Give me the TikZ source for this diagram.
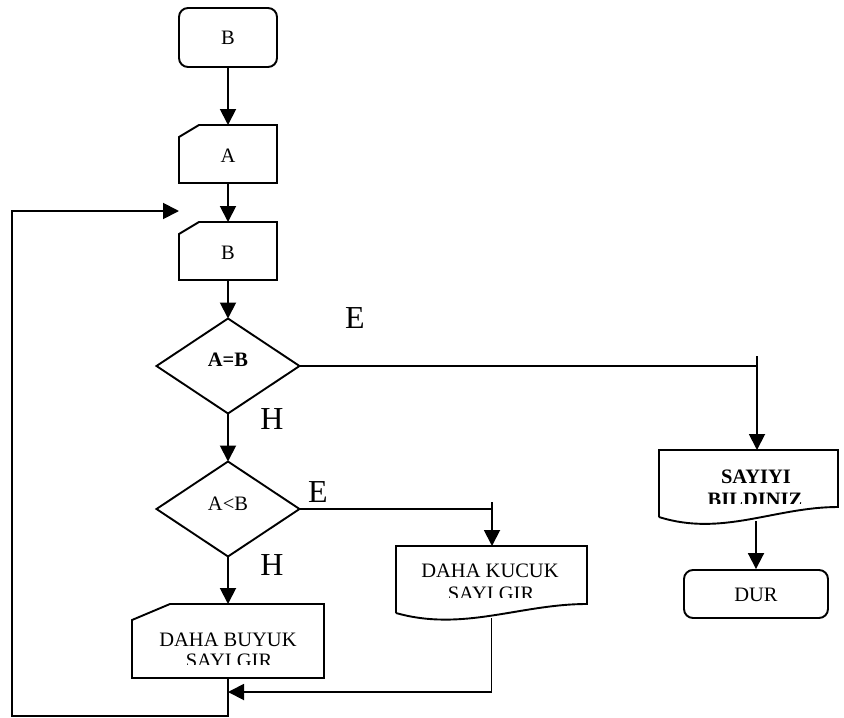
\documentclass[tikz,border=0pt]{standalone}
\usepackage{fontspec}
\setmainfont{Liberation Serif}
\usetikzlibrary{calc,arrows.meta}

\begin{document}
\begin{tikzpicture}[x=1pt,y=-1pt,
  stroke/.style={line width=1.9pt},
  flow/.style={stroke,-{Triangle[length=16pt,width=16pt]}},
  frame/.style={inner sep=0pt,outer sep=0pt},
  txt/.style={inner sep=0pt,font=\fontsize{20.5}{22}\selectfont},
  boldtxt/.style={inner sep=0pt,font=\fontsize{20.5}{22}\selectfont\bfseries},
  lbl/.style={inner sep=0pt,font=\fontsize{32}{34}\selectfont},
  terminal/.style={draw,stroke,rounded corners=9pt,inner sep=0pt}]

\useasboundingbox (0,0) rectangle (844,718);

% start terminal
\node[terminal,minimum width=98pt,minimum height=59pt] (start) at (228,37.5) {};
\node[txt] (tstart) at (228,37.5) {B};

% manual input A
\node[frame,minimum width=98pt,minimum height=58pt] (inA) at (228,154) {};
\draw[stroke] (inA.south west) -- (inA.south east) -- (inA.north east)
  -- ($(inA.north west)+(20,0)$) -- ($(inA.north west)+(0,12)$) -- cycle;
\node[txt] (tA) at (228,156) {A};

% manual input B
\node[frame,minimum width=98pt,minimum height=58pt] (inB) at (228,251) {};
\draw[stroke] (inB.south west) -- (inB.south east) -- (inB.north east)
  -- ($(inB.north west)+(20,0)$) -- ($(inB.north west)+(0,12)$) -- cycle;
\node[txt] (tB) at (228,253) {B};

% decision A=B
\node[frame,minimum width=143pt,minimum height=95pt] (dec1) at (228,366) {};
\draw[stroke] (dec1.north) -- (dec1.east) -- (dec1.south) -- (dec1.west) -- cycle;
\node[boldtxt] (tdec1) at (228,360) {A=B};

% decision A<B
\node[frame,minimum width=143pt,minimum height=95pt] (dec2) at (228,509) {};
\draw[stroke] (dec2.north) -- (dec2.east) -- (dec2.south) -- (dec2.west) -- cycle;
\node[txt] (tdec2) at (228,504) {A<B};

% manual input DAHA BUYUK
\node[frame,minimum width=192pt,minimum height=74pt] (buyuk) at (228,641) {};
\draw[stroke] (buyuk.south west) -- (buyuk.south east) -- (buyuk.north east)
  -- ($(buyuk.north west)+(38,0)$) -- ($(buyuk.north west)+(0,16)$) -- cycle;
\node[txt,anchor=base] (tbuyuk1) at (228,646) {DAHA BUYUK};
\begin{scope}
  \clip (140,648) rectangle (320,664);
  \node[txt,anchor=base] (tbuyuk2) at (229,667) {SAYI GIR};
\end{scope}

% document DAHA KUCUK
\node[frame,minimum width=191pt,minimum height=67pt] (kucuk) at (491.5,579.5) {};
\draw[stroke] (kucuk.south west) -- (kucuk.north west) -- (kucuk.north east)
  -- ($(kucuk.south east)+(0,-9)$)
  .. controls ($(kucuk.south west)+(124,-9)$) and ($(kucuk.south west)+(67,19)$) .. (kucuk.south west);
\node[txt,anchor=base] (tkucuk1) at (490,577) {DAHA KUCUK};
\begin{scope}
  \clip (400,580) rectangle (580,597);
  \node[txt,anchor=base] (tkucuk2) at (491,600) {SAYI GIR};
\end{scope}

% document SAYIYI BILDINIZ
\node[frame,minimum width=179pt,minimum height=67pt] (sayi) at (748.5,483.5) {};
\draw[stroke] (sayi.south west) -- (sayi.north west) -- (sayi.north east)
  -- ($(sayi.south east)+(0,-10)$)
  .. controls ($(sayi.south west)+(116,-10)$) and ($(sayi.south west)+(63,20)$) .. (sayi.south west);
\node[boldtxt,anchor=base] (tsayi1) at (756,483) {SAYIYI};
\begin{scope}
  \clip (665,486) rectangle (835,503);
  \node[boldtxt,anchor=base] (tsayi2) at (755,506) {BILDINIZ};
\end{scope}

% end terminal
\node[terminal,minimum width=144pt,minimum height=48pt] (dur) at (756,594) {};
\node[txt] (tdur) at (756,595) {DUR};

% branch labels
\node[lbl] (e1) at (355,318) {E};
\node[lbl] (h1) at (272,419) {H};
\node[lbl] (e2) at (318,492) {E};
\node[lbl] (h2) at (272,565) {H};

% main flow
\draw[flow] (start.south) -- (inA.north);
\draw[flow] (inA.south) -- (inB.north);
\draw[flow] (inB.south) -- (dec1.north);
\draw[flow] (dec1.south) -- (dec2.north);
\draw[flow] (dec2.south) -- (buyuk.north);

% yes branches
\coordinate (j1) at (757,366);
\draw[stroke] (dec1.east) -- (j1);
\draw[flow] ($(j1)+(0,-10)$) -- (j1 |- sayi.north);
\coordinate (j2) at (492,509);
\draw[stroke] (dec2.east) -- (j2);
\draw[flow] ($(j2)+(0,-7)$) -- (j2 |- kucuk.north);
\draw[flow] ($(dur.north |- sayi.south)+(0,4)$) -- (dur.north);

% merge and loop back
\coordinate (m) at (228,692);
\draw[flow] ($(kucuk.south)+(0,5)$) |- (m);
\coordinate (lb) at (12,716);
\coordinate (lt) at (179,211);
\draw[flow] (buyuk.south) |- (lb) |- (lt);

\end{tikzpicture}
\end{document}
